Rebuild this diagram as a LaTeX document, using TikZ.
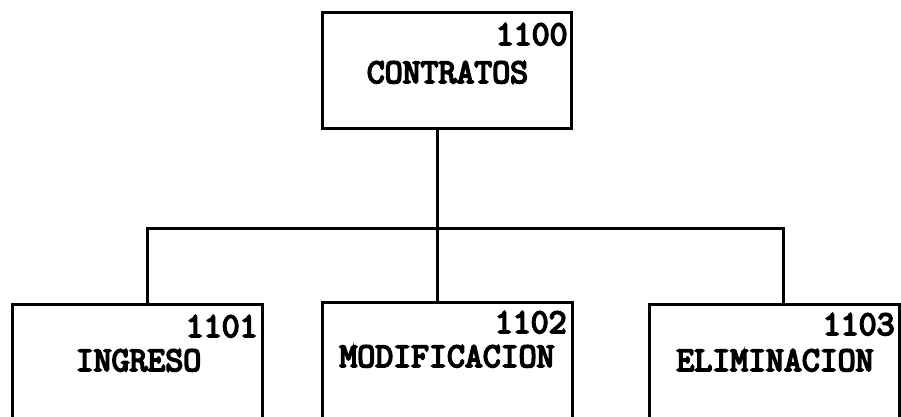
\documentclass[tikz,border=0pt]{standalone}
\usepackage{fontspec}
\newfontfamily\cajafont[FakeBold=5]{Latin Modern Mono}

\begin{document}
\begin{tikzpicture}[x=0.5pt, y=-0.5pt,
    caja/.style={draw, line width=1.5pt, inner sep=0pt, minimum width=125pt},
    rotulo/.style={inner sep=0pt, anchor=base, font=\cajafont\fontsize{17.4}{20}\selectfont},
    num/.style={rotulo, anchor=base east}]
    \useasboundingbox (0, 0) rectangle (901, 417);
    \clip (0, 0) rectangle (901, 417);

    \node [caja, minimum width=124.5pt, minimum height=58pt] (contratos) at (446.5, 71) {};
    \node [num] (n1100) at (568, 45) {1100};
    \node [rotulo] (t1100) at (447.5, 83) {CONTRATOS};

    \node [caja, minimum height=100pt] (ingreso) at (137.5, 405) {};
    \node [num] (n1101) at (258, 337) {1101};
    \node [rotulo] (t1101) at (138.5, 371) {INGRESO};

    \node [caja, minimum height=100pt] (modificacion) at (447, 403) {};
    \node [num] (n1102) at (567, 333) {1102};
    \node [rotulo] (t1102) at (447, 367) {MODIFICACION};

    \node [caja, minimum height=100pt] (eliminacion) at (774, 405) {};
    \node [num] (n1103) at (895, 335) {1103};
    \node [rotulo] (t1103) at (775, 371) {ELIMINACION};

    % barra de union
    \coordinate (bus) at (437, 229);
    \coordinate (busL) at (147, 229);
    \coordinate (busR) at (783, 229);

    \draw [line width=1.5pt] (contratos.south -| bus) -- (modificacion.north -| bus);
    \draw [line width=1.5pt] (ingreso.north -| busL) -- (busL) -- (busR) -- (eliminacion.north -| busR);
\end{tikzpicture}
\end{document}
